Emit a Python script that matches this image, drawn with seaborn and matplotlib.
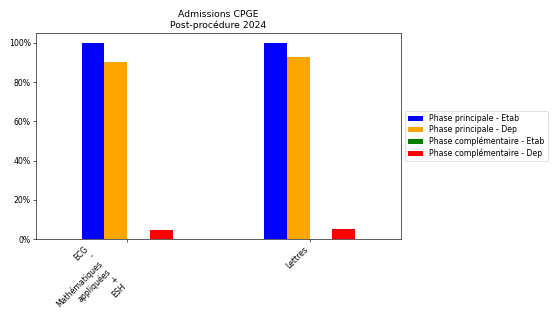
import matplotlib
matplotlib.use("Agg")
import matplotlib.pyplot as plt
import seaborn as sns
import pandas as pd
from matplotlib.ticker import PercentFormatter

categories = ["ECG\n-\nMathématiques\nappliquées\n+\nESH", "Lettres"]
series = ["Phase principale - Etab", "Phase principale - Dep",
          "Phase complémentaire - Etab", "Phase complémentaire - Dep"]
values_ecg = [1.00, 0.90, 0.0, 0.044]
values_lettres = [1.00, 0.927, 0.0, 0.051]
colors = ["blue", "orange", "green", "red"]

rows = []
for s, v1, v2 in zip(series, values_ecg, values_lettres):
    rows.append({"Filière": categories[0], "Série": s, "Valeur": v1})
    rows.append({"Filière": categories[1], "Série": s, "Valeur": v2})
df = pd.DataFrame(rows)

DPI = 55.5
fig, ax = plt.subplots(figsize=(555 / DPI, 333 / DPI), dpi=DPI)
sns.barplot(data=df, x="Filière", y="Valeur", hue="Série", hue_order=series,
            order=categories, palette=dict(zip(series, colors)), saturation=1,
            width=0.5, ax=ax, errorbar=None)
ax.set_xlim(-0.5, 1.5)
ax.set_ylim(0, 1.05)
ax.yaxis.set_major_formatter(PercentFormatter(xmax=1, decimals=0))
ax.set_xlabel("")
ax.set_ylabel("")
ax.tick_params(labelsize=10)
for lbl in ax.get_xticklabels():
    lbl.set_rotation(45)
    lbl.set_ha("right")
ax.set_title("Admissions CPGE\nPost-procédure 2024", fontsize=12)
handles, labels = ax.get_legend_handles_labels()
ax.legend(handles, labels, loc="center left", bbox_to_anchor=(1.0, 0.5),
          fontsize=10, labelspacing=0.3)
fig.subplots_adjust(left=0.065, right=0.722, top=0.901, bottom=0.282)
fig.savefig("out.png", dpi=DPI)
